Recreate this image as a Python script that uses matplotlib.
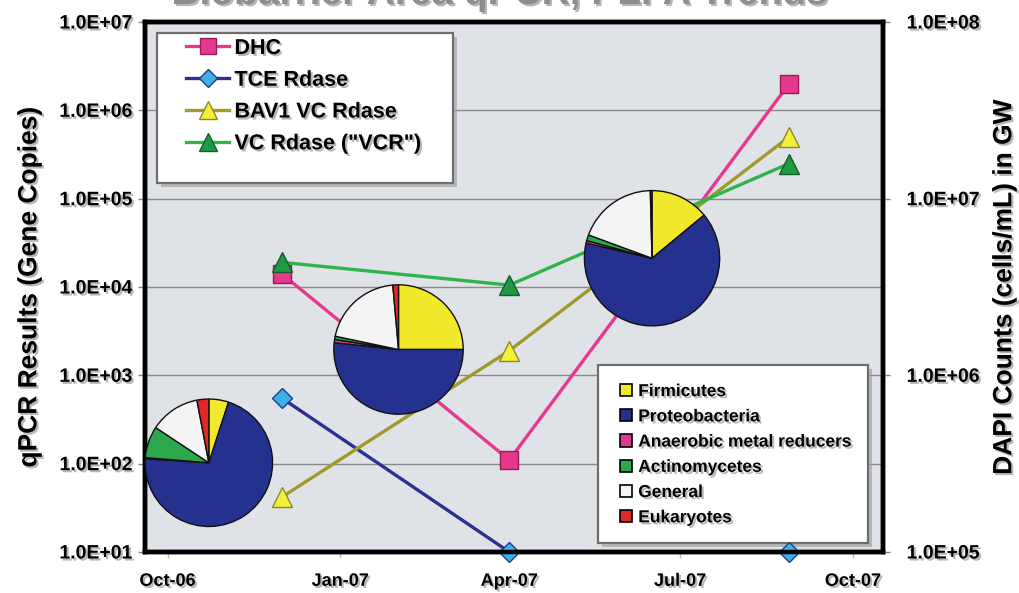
import datetime as dt
import numpy as np
import matplotlib
matplotlib.use("Agg")
import matplotlib.pyplot as plt
import matplotlib.dates as mdates
import matplotlib.patheffects as pe
from matplotlib.patches import Patch, Rectangle
from matplotlib.ticker import FixedLocator, FuncFormatter, NullLocator

plt.rcParams['font.family'] = ['Liberation Sans', 'DejaVu Sans']
plt.rcParams['font.weight'] = 'bold'

# qPCR sampling dates and gene copies
sample_dates = [dt.datetime(2006, 12, 1), dt.datetime(2007, 4, 1), dt.datetime(2007, 8, 28)]
dhc = [1.4e4, 1.1e2, 2.0e6]
tce_rdase = [5.5e2, 1.0e1, 1.0e1]
bav1_vc_rdase = [42, 1.9e3, 5.0e5]
vcr = [1.9e4, 1.05e4, 2.5e5]

# PLFA pies: date, DAPI count (right axis) and community fractions (%)
pie_dates = [dt.datetime(2006, 10, 23), dt.datetime(2007, 2, 1), dt.datetime(2007, 6, 16)]
pie_dapi = [3.2e5, 1.4e6, 4.6e6]
groups = ['Firmicutes', 'Proteobacteria', 'Anaerobic metal reducers',
          'Actinomycetes', 'General', 'Eukaryotes']
pie_fractions = [
    [5.0, 71.0, 0.3, 8.0, 12.7, 3.0],
    [25.0, 51.7, 0.8, 0.8, 20.3, 1.4],
    [14.0, 64.6, 0.6, 1.4, 19.0, 0.4],
]
group_colors = ['#f3e92c', '#25318f', '#e0388e', '#2ea84c', '#f4f4f4', '#e32626']

shadow = [pe.withSimplePatchShadow(offset=(1.5, -1.5), shadow_rgbFace='#888888', alpha=0.6)]

W, H = 1019, 593
fig = plt.figure(figsize=(W / 100, H / 100), dpi=100)
ax = fig.add_axes([145 / W, 41 / H, 738 / W, 530 / H])
ax.set_facecolor('#dfe2e6')

ax.plot(sample_dates, dhc, color='#e6388f', lw=2.4, marker='s', ms=13,
        mfc='#e6388f', mec='#9a1c55', label='DHC', zorder=3, clip_on=False)
ax.plot(sample_dates, tce_rdase, color='#2b3190', lw=2.4, marker='D', ms=10,
        mfc='#3fb0e6', mec='#1f3c8c', label='TCE Rdase', zorder=3, clip_on=False)
ax.plot(sample_dates, bav1_vc_rdase, color='#a09a2c', lw=2.4, marker='^', ms=15,
        mfc='#f3ef3a', mec='#8c8a2a', label='BAV1 VC Rdase', zorder=3, clip_on=False)
ax.plot(sample_dates, vcr, color='#2fb34c', lw=2.4, marker='^', ms=15,
        mfc='#1e9a42', mec='#145f2a', label='VC Rdase ("VCR")', zorder=3, clip_on=False)

ax.set_yscale('log')
ax.set_ylim(1e1, 1e7)
ax.yaxis.set_major_locator(FixedLocator([1e1, 1e2, 1e3, 1e4, 1e5, 1e6, 1e7]))
ax.yaxis.set_minor_locator(NullLocator())
ax.yaxis.set_major_formatter(FuncFormatter(lambda v, p: '{:.1E}'.format(v)))
ax.grid(axis='y', color='#8a8a8a', lw=1)
ax.set_axisbelow(True)

ax.set_xlim(dt.datetime(2006, 9, 19), dt.datetime(2007, 10, 17))
ax.xaxis.set_major_locator(mdates.MonthLocator(bymonth=[1, 4, 7, 10]))
ax.xaxis.set_major_formatter(mdates.DateFormatter('%b-%y'))

for s in ax.spines.values():
    s.set_linewidth(3.2)
ax.tick_params(axis='y', labelsize=14, length=5, width=1, color='#888888', pad=4)
ax.tick_params(axis='x', labelsize=13, length=4, width=1, color='#bbbbbb', pad=11)
for t in ax.get_xticklabels() + ax.get_yticklabels():
    t.set_path_effects(shadow)

ax2 = ax.twinx()
ax2.set_yscale('log')
ax2.set_ylim(1e5, 1e8)
ax2.yaxis.set_major_locator(FixedLocator([1e5, 1e6, 1e7, 1e8]))
ax2.yaxis.set_minor_locator(NullLocator())
ax2.yaxis.set_major_formatter(FuncFormatter(lambda v, p: '{:.1E}'.format(v)))
ax2.tick_params(axis='y', labelsize=14, length=5, width=1, color='#888888', pad=12)
for s in ax2.spines.values():
    s.set_linewidth(3.2)
for t in ax2.get_yticklabels():
    t.set_path_effects(shadow)

ax.set_ylabel('qPCR Results (Gene Copies)', fontsize=19, fontweight='bold',
              labelpad=13, path_effects=shadow)
ax2.set_ylabel('DAPI Counts (cells/mL) in GW', fontsize=19, fontweight='bold',
               labelpad=9, path_effects=shadow)

fig.text(0.49, 1 - 4 / H, 'Biobarrier Area qPCR, PLFA Trends', fontsize=28,
         color='#8e8e8e', ha='center', va='baseline', path_effects=shadow)

# pies placed at (date, DAPI) in the right-axis coordinates
pie_radius = [65, 66, 69]
for d, v, fr, r in zip(pie_dates, pie_dapi, pie_fractions, pie_radius):
    cx, cy = ax2.transData.transform((mdates.date2num(d), v))
    pax = fig.add_axes([(cx - r) / W, (cy - r) / H, 2 * r / W, 2 * r / H], zorder=5)
    pax.pie(fr, colors=group_colors, startangle=90, counterclock=False, radius=1,
            wedgeprops=dict(edgecolor='#111111', linewidth=1))
    pax.set_xlim(-1.02, 1.02)
    pax.set_ylim(-1.02, 1.02)
    pax.set_aspect('equal')
    pax.axis('off')


def legend_box(x0, y0, x1, y1):
    # white box with a soft grey drop shadow, pixels from the top-left; kept under the lines
    sh = Rectangle(((x0 + 4) / W, 1 - (y1 + 4) / H), (x1 - x0) / W, (y1 - y0) / H,
                   transform=fig.transFigure, facecolor='#9a9a9a', edgecolor='none',
                   alpha=0.6, zorder=2.4, clip_on=False)
    bx = Rectangle((x0 / W, 1 - y1 / H), (x1 - x0) / W, (y1 - y0) / H,
                   transform=fig.transFigure, facecolor='white', edgecolor='#6e6e6e',
                   lw=1.6, zorder=2.5, clip_on=False)
    ax.add_patch(sh)
    ax.add_patch(bx)


legend_box(157, 33, 453, 183)
legend_box(598, 365, 868, 543)

h, l = ax.get_legend_handles_labels()
leg1 = ax.legend(h, l, loc='upper left', bbox_to_anchor=(186 / W, 1 - 38 / H),
                 bbox_transform=fig.transFigure,
                 fontsize=15.5, frameon=False, handlelength=2.0, borderpad=0,
                 labelspacing=0.5, borderaxespad=0, handletextpad=0.25, markerscale=0.9)
leg1.set_zorder(2.7)
for t in leg1.get_texts():
    t.set_path_effects(shadow)
ax.add_artist(leg1)

patches = [Patch(facecolor=c, edgecolor='black', lw=1.2) for c in group_colors]
leg2 = ax.legend(patches, groups, loc='upper left', bbox_to_anchor=(620 / W, 1 - 384 / H),
                 bbox_transform=fig.transFigure,
                 fontsize=12.5, frameon=False, handlelength=0.7, handleheight=0.7,
                 borderpad=0, labelspacing=0.58, borderaxespad=0, handletextpad=0.35)
leg2.set_zorder(2.7)
for t in leg2.get_texts():
    t.set_path_effects(shadow)

fig.savefig('out.png', dpi=100)
